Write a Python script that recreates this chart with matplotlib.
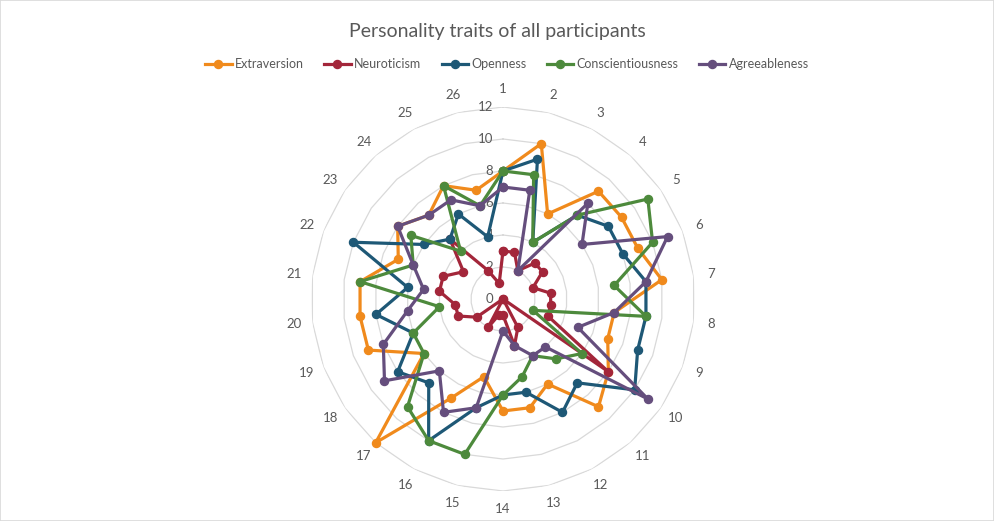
import numpy as np
import matplotlib
matplotlib.use("Agg")
import matplotlib.pyplot as plt
from matplotlib.transforms import offset_copy
from matplotlib.patches import Rectangle

plt.rcParams['font.family'] = ['Lato', 'DejaVu Sans']

participants = [str(i) for i in range(1, 27)]

extraversion = [8, 10, 6, 9, 9, 9, 10, 7, 7, 8, 9, 6, 7, 7, 5, 7, 12, 6, 9, 9, 9, 7, 8, 7, 8, 7]
neuroticism = [3, 3, 2, 3, 3, 2, 3, 3, 3, 8, 0, 2, 3, 1, 1, 2, 0, 2, 3, 3, 4, 4, 3, 5, 2, 1]
openness = [8, 9, 4, 7, 8, 8, 9, 9, 9, 10, 7, 8, 6, 6, 7, 10, 7, 8, 6, 8, 6, 10, 6, 5, 6, 4]
conscientiousness = [8, 8, 4, 7, 11, 10, 7, 9, 2, 6, 5, 4, 5, 6, 10, 10, 9, 6, 6, 4, 9, 6, 7, 4, 8, 6]
agreeableness = [7, 7, 2, 8, 6, 11, 9, 7, 5, 11, 4, 4, 3, 2, 7, 8, 6, 9, 8, 6, 5, 6, 8, 7, 7, 6]

series = [
    ("Extraversion", extraversion, "#F08A1C"),
    ("Neuroticism", neuroticism, "#A3263A"),
    ("Openness", openness, "#1E5876"),
    ("Conscientiousness", conscientiousness, "#4D8A3C"),
    ("Agreeableness", agreeableness, "#654E7D"),
]
rings = [0, 2, 4, 6, 8, 10, 12]

W, H = 994, 521
fig = plt.figure(figsize=(W / 100, H / 100), dpi=100)
fig.patches.append(Rectangle((0, 0), 1, 1, transform=fig.transFigure,
                             fill=False, edgecolor="#d9d9d9", lw=1.2))

cx, cy, R = 503, 299, 192
ax = fig.add_axes([(cx - R) / W, (H - cy - R) / H, 2 * R / W, 2 * R / H],
                  projection="polar")
ax.set_theta_zero_location("N")
ax.set_theta_direction(-1)
ax.set_ylim(0, 12)
ax.grid(False)
ax.spines["polar"].set_visible(False)

n = len(participants)
angles = np.linspace(0, 2 * np.pi, n, endpoint=False)
closed = np.append(angles, angles[0])

# polygon gridlines like a spider web
for r in rings[1:]:
    ax.plot(closed, [r] * (n + 1), color="#d9d9d9", lw=0.9, zorder=1)

ax.set_xticks(angles)
ax.set_xticklabels(participants)
ax.tick_params(axis="x", pad=6, colors="#595959", labelsize=9.5, length=0)
ax.set_yticks([])

lab_tr = offset_copy(ax.transData, fig=fig, x=-7, y=0, units="points")
for r in rings:
    ax.text(0, r, str(r), transform=lab_tr, ha="right", va="center",
            fontsize=9.5, color="#595959")

for name, vals, col in series:
    v = np.append(vals, vals[0])
    ax.plot(closed, v, color=col, lw=2.3, marker="o", ms=5.8, label=name,
            zorder=3, clip_on=False)

fig.text(0.5, 1 - 31 / H, "Personality traits of all participants",
         ha="center", va="center", fontsize=14, color="#595959")
fig.legend(loc="center", bbox_to_anchor=(0.51, 1 - 64 / H), ncol=5,
           frameon=False, fontsize=9, handlelength=2.1, columnspacing=1.6,
           handletextpad=0.3, labelcolor="#595959")

fig.savefig("out.png", dpi=100)
